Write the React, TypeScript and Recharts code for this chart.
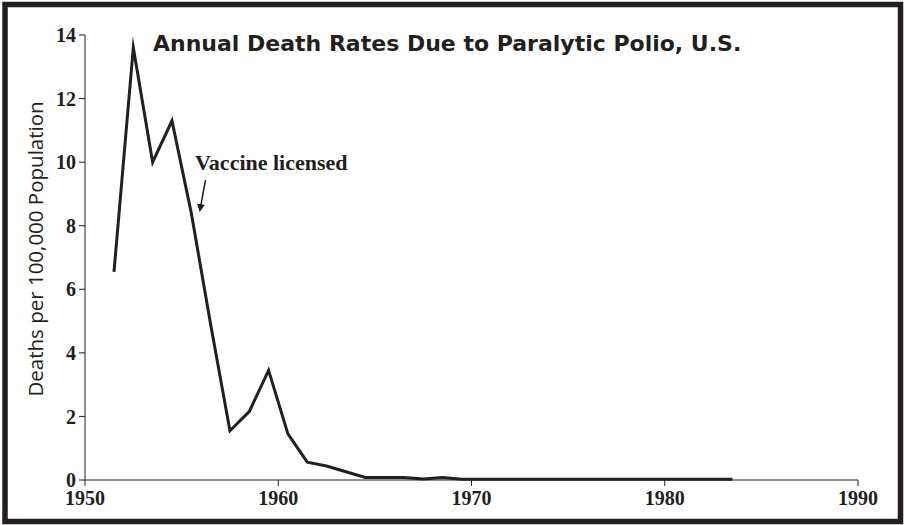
import { LineChart, Line, XAxis, YAxis } from "recharts";

const years = [
  1951, 1952, 1953, 1954, 1955, 1956, 1957, 1958, 1959, 1960, 1961,
  1962, 1963, 1964, 1965, 1966, 1967, 1968, 1969, 1970, 1971, 1972,
  1973, 1974, 1975, 1976, 1977, 1978, 1979, 1980, 1981, 1982, 1983,
];
const deathRates = [
  6.55, 13.6, 10.0, 11.3, 8.4, 4.9, 1.55, 2.15, 3.45, 1.45, 0.56,
  0.44, 0.26, 0.08, 0.08, 0.08, 0.03, 0.08, 0.02, 0.02, 0.02, 0.02,
  0.02, 0.02, 0.02, 0.02, 0.02, 0.02, 0.02, 0.02, 0.02, 0.02, 0.02,
];
const xTicks = [1950, 1960, 1970, 1980, 1990];
const yTicks = [0, 2, 4, 6, 8, 10, 12, 14];

const TITLE = "Annual Death Rates Due to Paralytic Polio, U.S.";
const Y_LABEL = "Deaths per 100,000 Population";
const NOTE = "Vaccine licensed";

// rates are annual, plotted at mid-year
const data = years.map((y, i) => ({ year: y + 0.5, rate: deathRates[i] }));

const ink = "#231f20";
const tickFont = {
  fill: ink,
  fontSize: 20,
  fontWeight: 700,
  fontFamily: "'Liberation Serif', serif",
};

export default function App() {
  return (
    <div style={{ position: "relative", width: 904, height: 525, background: "#fff" }}>
      <style>{"html, body { margin: 0; padding: 0; }"}</style>
      <LineChart
        width={904}
        height={525}
        data={data}
        margin={{ top: 35, right: 46, bottom: 0, left: 0 }}
      >
        <XAxis
          dataKey="year"
          type="number"
          domain={[1950, 1990]}
          ticks={xTicks}
          height={45}
          stroke={ink}
          tickSize={6}
          tickMargin={5}
          tick={tickFont}
          interval={0}
        />
        <YAxis
          type="number"
          domain={[0, 14]}
          ticks={yTicks}
          width={85}
          stroke={ink}
          tickSize={6}
          tickMargin={3}
          tick={tickFont}
          interval={0}
        />
        <Line
          dataKey="rate"
          type="linear"
          stroke={ink}
          strokeWidth={3}
          strokeMiterlimit={20}
          dot={false}
          activeDot={false}
          isAnimationActive={false}
        />
      </LineChart>
      <svg
        width={904}
        height={525}
        style={{ position: "absolute", left: 0, top: 0, pointerEvents: "none" }}
      >
        <defs>
          <marker id="head" markerWidth="8" markerHeight="10" refX="6" refY="5" orient="auto" markerUnits="userSpaceOnUse">
            <path d="M0,1 L8,5 L0,9 Z" fill={ink} />
          </marker>
        </defs>
        {/* outer frame */}
        <rect x={5} y={4.5} width={895.5} height={517} fill="none" stroke={ink} strokeWidth={5.5} />
        <text
          x={153}
          y={51}
          fill={ink}
          fontSize={22}
          fontWeight={700}
          fontFamily="'DejaVu Sans', sans-serif"
        >
          {TITLE}
        </text>
        <text
          transform="translate(43, 249) rotate(-90)"
          textAnchor="middle"
          fill={ink}
          fontSize={20.5}
          fontFamily="'Open Sans', sans-serif"
        >
          {Y_LABEL}
        </text>
        <text
          x={195}
          y={170}
          fill={ink}
          fontSize={22}
          fontWeight={700}
          fontFamily="'Liberation Serif', serif"
        >
          {NOTE}
        </text>
        <line x1={205.5} y1={180} x2={200} y2={210} stroke={ink} strokeWidth={1.5} markerEnd="url(#head)" />
      </svg>
    </div>
  );
}
